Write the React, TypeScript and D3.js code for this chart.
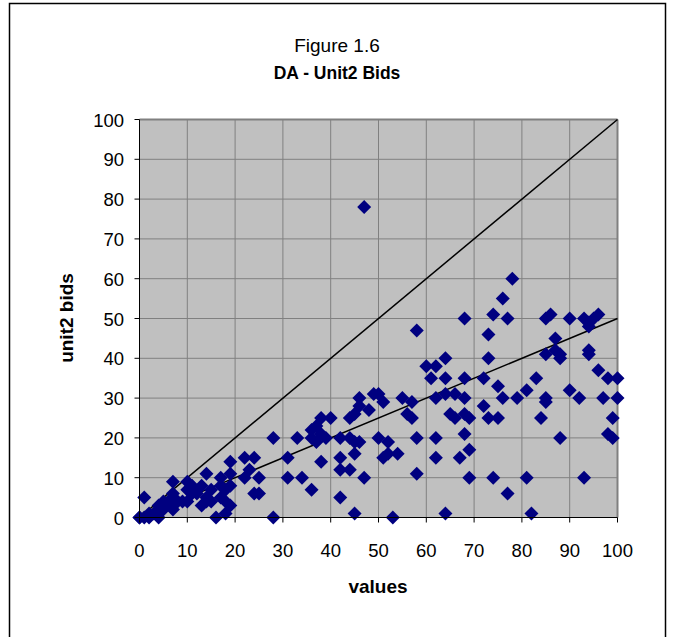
import React from "react";
import * as d3 from "d3";

const xValues: number[] = [
  0,0,1,1,2,2,3,4,4,5,5,6,7,7,7,8,9,10,10,10,11,11,12,13,13,14,14,15,14,15,16,17,17,18,17,19,19,18,19,18,19,22,24,23,22,25,24,25,
  28,28,31,31,33,34,36,38,38,40,36,37,38,36,37,39,42,44,45,46,42,42,44,45,42,45,47,44,45,46,48,46,47,49,50,51,
  50,52,52,54,51,53,55,57,56,57,58,58,58,60,62,64,61,64,62,64,66,68,62,62,64,65,66,68,69,68,69,67,69,68,68,72,72,73,75,73,73,74,74,
  76,78,77,75,76,79,81,83,84,85,85,77,81,82,85,86,87,87,85,88,88,88,90,90,92,93,94,94,95,96,94,94,96,98,100,97,100,99,98,99,93
];
const yValues: number[] = [
  0,0,0,5,1,0,1,0,3,4,2,4,6,2,9,4,4,9,7,4,8,6,6,3,8,11,5,7,4,4,0,5,8,4,10,11,14,1,3,7,8,15,15,12,10,10,6,6,
  20,0,15,10,20,10,7,14,25,25,22,23,21,20,19,20,20,20,19,19,15,12,12,16,5,1,10,25,26,28,27,30,78,31,31,29,
  20,19,16,16,15,0,30,29,26,25,47,20,11,38,38,40,35,35,30,31,31,30,20,15,1,26,25,26,25,21,17,15,10,35,50,35,28,25,25,46,40,51,10,
  55,60,50,33,30,30,32,35,25,30,29,6,10,1,50,51,45,42,41,41,40,20,50,32,30,50,49,48,50,51,42,41,37,35,35,30,30,25,21,20,10
];
const xTicks: number[] = [0, 10, 20, 30, 40, 50, 60, 70, 80, 90, 100];
const yTicks: number[] = [0, 10, 20, 30, 40, 50, 60, 70, 80, 90, 100];
const refLines: { slope: number }[] = [{ slope: 1 }, { slope: 0.5 }];

const titleLine1 = "Figure 1.6";
const titleLine2 = "DA - Unit2 Bids";
const xTitle = "values";
const yTitle = "unit2 bids";

export default function App() {
  const W = 673, H = 637;
  const left = 139.5, right = 617.5, top = 119.5, bottom = 517.5;
  const x = d3.scaleLinear().domain([0, 100]).range([left, right]);
  const y = d3.scaleLinear().domain([0, 100]).range([bottom, top]);
  const font = "'Liberation Sans', Arial, sans-serif";
  const r = 7;
  const diamond = (cx: number, cy: number) =>
    `M${cx},${cy - r}L${cx + r},${cy}L${cx},${cy + r}L${cx - r},${cy}Z`;
  const points = xValues.map((v, i) => ({ x: v, y: yValues[i] }));
  const line = d3.line<[number, number]>().x(d => x(d[0])).y(d => y(d[1]));

  return (
    <svg width={W} height={H} style={{ position: "absolute", left: 0, top: 0, background: "#fff" }}>
      <rect x={9.5} y={3.5} width={656} height={640} fill="#fff" stroke="#000" strokeWidth={1.5} />
      <text x={337} y={52} textAnchor="middle" fontFamily={font} fontSize={19}>{titleLine1}</text>
      <text x={337} y={79} textAnchor="middle" fontFamily={font} fontSize={17.5} fontWeight="bold">{titleLine2}</text>

      <rect x={left} y={top} width={right - left} height={bottom - top} fill="#c0c0c0" />
      {xTicks.filter(t => t > 0 && t < 100).map(t => (
        <line key={"gx" + t} x1={x(t)} x2={x(t)} y1={top} y2={bottom} stroke="#808080" strokeWidth={1} />
      ))}
      {yTicks.filter(t => t > 0 && t < 100).map(t => (
        <line key={"gy" + t} x1={left} x2={right} y1={y(t)} y2={y(t)} stroke="#808080" strokeWidth={1} />
      ))}
      <line x1={left} x2={right} y1={top} y2={top} stroke="#808080" strokeWidth={2} />
      <line x1={right} x2={right} y1={top} y2={bottom} stroke="#808080" strokeWidth={2} />

      {refLines.map((l, i) => (
        <path key={"rl" + i} d={line([[0, 0], [100, 100 * l.slope]]) || ""} stroke="#000" strokeWidth={1.5} fill="none" />
      ))}

      {points.map((p, i) => (
        <path key={"p" + i} d={diamond(x(p.x), y(p.y))} fill="#000080" />
      ))}

      <line x1={left} x2={left} y1={top} y2={bottom} stroke="#000" strokeWidth={1} />
      <line x1={left} x2={right} y1={bottom} y2={bottom} stroke="#000" strokeWidth={1} />
      {yTicks.map(t => (
        <g key={"yt" + t}>
          <line x1={left - 5} x2={left} y1={y(t)} y2={y(t)} stroke="#000" />
          <text x={124} y={y(t) + 7} textAnchor="end" fontFamily={font} fontSize={18.5}>{t}</text>
        </g>
      ))}
      {xTicks.map(t => (
        <g key={"xt" + t}>
          <line x1={x(t)} x2={x(t)} y1={bottom} y2={bottom + 5} stroke="#000" />
          <text x={x(t)} y={557} textAnchor="middle" fontFamily={font} fontSize={18.5}>{t}</text>
        </g>
      ))}
      <text x={378} y={593} textAnchor="middle" fontFamily={font} fontSize={19} fontWeight="bold">{xTitle}</text>
      <text transform="translate(73,318) rotate(-90)" textAnchor="middle" fontFamily={font} fontSize={19} fontWeight="bold">{yTitle}</text>
    </svg>
  );
}
